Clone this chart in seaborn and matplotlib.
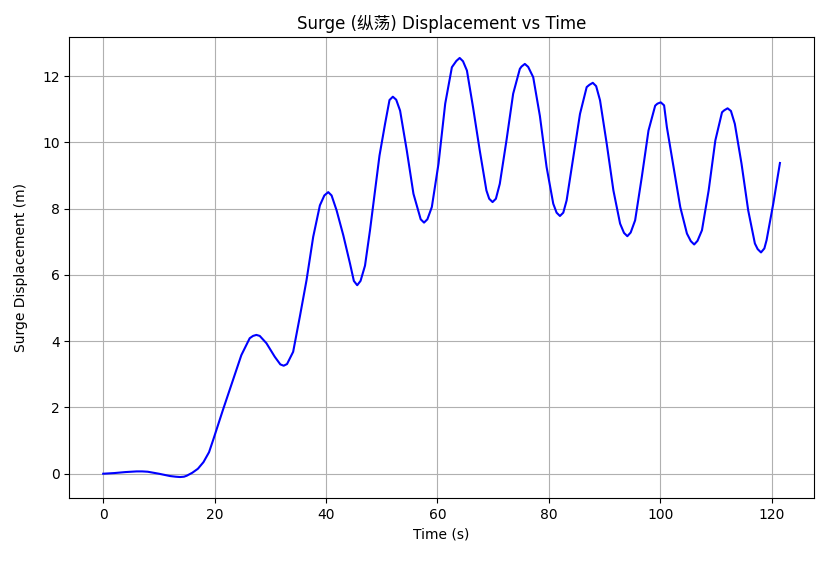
import matplotlib
matplotlib.use("Agg")
import matplotlib.pyplot as plt
import pandas as pd
import seaborn as sns

# 纵荡位移时程
time_s = [0, 2, 4, 6, 7, 8, 10, 12, 13, 13.8, 14.5, 15, 16, 17, 18, 19, 19.8,
          21.5, 23.3, 24.8, 26.3, 26.9, 27.5, 28.1, 29.3, 30.8, 31.8, 32.4, 33.0,
          34.1, 35.3, 36.5, 37.7, 38.9, 39.7, 40.4, 41.0, 41.9, 43.1, 44.3, 45.0,
          45.6, 46.2, 47.0, 47.9, 48.8, 49.6, 50.6, 51.4, 52.0, 52.6, 53.3, 54.5, 55.7,
          57.0, 57.6, 58.2, 59.0, 60.2, 61.4, 62.6, 63.4, 64.0, 64.6, 65.3, 66.4,
          67.6, 68.8, 69.3, 69.9, 70.5, 71.2, 72.4, 73.6, 74.8, 75.1, 75.7, 76.3,
          77.2, 78.4, 79.6, 80.8, 81.4, 82.0, 82.6, 83.2, 84.4, 85.6, 86.8, 87.3,
          87.9, 88.5, 89.2, 90.4, 91.6, 92.8, 93.5, 94.1, 94.7, 95.5, 96.7, 97.9,
          99.1, 99.5, 100.1, 100.7, 101.2, 102.4, 103.6, 104.8, 105.5, 106.1,
          106.7, 107.5, 108.7, 109.9, 111.1, 111.5, 112.1, 112.7, 113.4, 114.6,
          115.8, 117.0, 117.5, 118.1, 118.7, 119.1, 120.3, 121.5]
surge_m = [0.0, 0.02, 0.05, 0.07, 0.07, 0.06, 0.0, -0.07, -0.09, -0.10, -0.09, -0.06, 0.03, 0.15, 0.35, 0.65, 1.05,
           1.93, 2.83, 3.58, 4.09, 4.16, 4.19, 4.16, 3.94, 3.53, 3.30, 3.26, 3.31,
           3.68, 4.74, 5.84, 7.15, 8.10, 8.40, 8.50, 8.40, 7.95, 7.20, 6.35, 5.82,
           5.69, 5.82, 6.28, 7.35, 8.55, 9.60, 10.56, 11.28, 11.38, 11.29, 10.96, 9.76, 8.45,
           7.68, 7.58, 7.68, 8.05, 9.36, 11.17, 12.27, 12.46, 12.55, 12.45, 12.17, 11.06,
           9.76, 8.55, 8.30, 8.20, 8.30, 8.75, 10.06, 11.47, 12.22, 12.29, 12.37, 12.28,
           11.97, 10.80, 9.26, 8.15, 7.88, 7.78, 7.88, 8.25, 9.56, 10.86, 11.67, 11.74,
           11.80, 11.70, 11.27, 9.96, 8.55, 7.55, 7.27, 7.17, 7.28, 7.65, 8.96, 10.36,
           11.11, 11.17, 11.21, 11.12, 10.46, 9.26, 8.05, 7.25, 7.02, 6.92,
           7.03, 7.35, 8.55, 10.06, 10.91, 10.97, 11.03, 10.95, 10.56, 9.36,
           7.95, 6.95, 6.78, 6.68, 6.80, 7.05, 8.15, 9.38]

df = pd.DataFrame({"time": time_s, "surge": surge_m})

plt.rcParams['font.family'] = ['DejaVu Sans', 'Noto Sans CJK SC']

fig, ax = plt.subplots(figsize=(8.25, 5.65), dpi=100)
sns.lineplot(data=df, x="time", y="surge", color="blue", linewidth=1.5, ax=ax)
ax.set_title("Surge (纵荡) Displacement vs Time")
ax.set_xlabel("Time (s)")
ax.set_ylabel("Surge Displacement (m)", labelpad=10)
ax.grid(True)
fig.subplots_adjust(left=0.0841, right=0.9864, top=0.9345, bottom=0.1186)
fig.savefig("out.png", dpi=100)
